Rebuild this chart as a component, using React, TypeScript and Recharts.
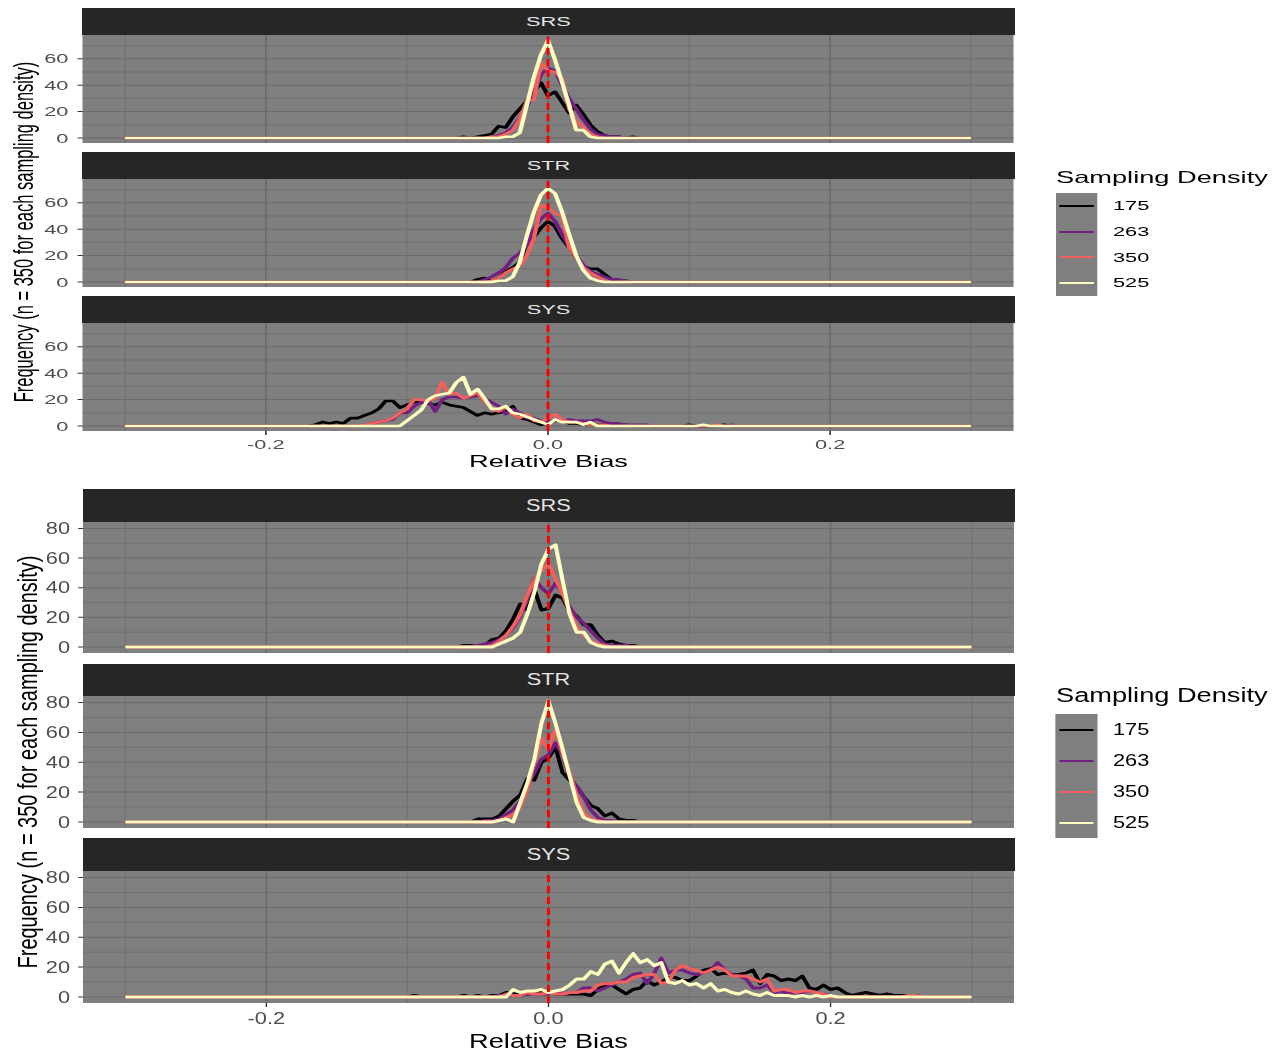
import React from "react";
import { LineChart, Line, XAxis, YAxis, CartesianGrid, ReferenceLine } from "recharts";

const densities = ["175", "263", "350", "525"];
const densityColors = ["#000004", "#721F81", "#F1605D", "#FCFDBF"];
const designs = ["SRS", "STR", "SYS"];

const binWidth = 0.005;
const biasLimits = [-0.3, 0.3];
const biasTicks = [-0.2, 0, 0.2];
const biasMinor = [-0.3, -0.1, 0.1, 0.3];
const upperFreqTicks = [0, 20, 40, 60];
const lowerFreqTicks = [0, 20, 40, 60, 80];
const freqMinor = [10, 30, 50, 70];

// frequency polygons: first bin centre for each density, then counts per 0.005 bin
const upperSrsStart = [-0.065, -0.045, -0.045, -0.035];
const upperSrsCounts = [
  [0, 1, 0, 1, 2, 3, 9, 8, 16, 22, 28, 35, 42, 32, 35, 27, 19, 25, 18, 10, 5, 2, 1, 1, 0, 1, 0],
  [0, 1, 2, 4, 8, 15, 24, 34, 48, 53, 51, 40, 30, 22, 14, 7, 3, 2, 1, 1, 0],
  [0, 1, 1, 3, 6, 14, 28, 29, 57, 51, 50, 45, 22, 13, 8, 3, 1, 0],
  [0, 1, 1, 4, 25, 46, 63, 74, 59, 42, 25, 6, 6, 1, 0],
];

const upperStrStart = [-0.055, -0.05, -0.045, -0.04];
const upperStrCounts = [
  [0, 2, 3, 1, 3, 8, 11, 15, 30, 34, 41, 46, 42, 33, 26, 19, 12, 10, 10, 6, 2, 1, 1, 0],
  [0, 2, 4, 7, 11, 18, 22, 28, 40, 48, 52, 46, 36, 27, 20, 13, 8, 6, 4, 2, 2, 1, 0],
  [0, 1, 3, 7, 10, 12, 20, 33, 58, 56, 52, 50, 26, 19, 11, 7, 4, 1, 0],
  [0, 1, 1, 4, 15, 35, 53, 66, 71, 67, 53, 36, 20, 9, 3, 1, 0],
];

const upperSysStart = [-0.17, -0.135, -0.135, -0.105];
const upperSysCounts = [
  [0, 1, 3, 2, 3, 2, 6, 6, 8, 10, 13, 19, 19, 14, 16, 18, 18, 17, 16, 18, 16, 15, 14, 11, 8, 10, 9, 10, 11, 15,
   6, 5, 3, 1, 2, 4, 4, 2, 2, 1, 2, 1, 1, 1, 0, 1, 0, 0, 0, 0, 0, 0, 0, 0, 1, 0, 0, 0, 0, 1, 0],
  [0, 1, 2, 3, 4, 5, 10, 10, 15, 18, 20, 11, 20, 22, 22, 21, 22, 23, 21, 18, 15, 9, 13, 10, 6, 6, 4, 3, 5, 4,
   5, 4, 4, 4, 5, 3, 2, 2, 1, 1, 1, 1, 0, 0, 0, 0, 0, 0, 0, 0, 0, 0, 0, 1, 0],
  [0, 1, 2, 3, 4, 6, 10, 13, 20, 20, 19, 21, 33, 24, 25, 21, 23, 25, 19, 13, 11, 15, 9, 6, 9, 4, 3, 6, 9, 5,
   3, 3, 2, 1, 1, 1, 0, 0, 0, 0, 0, 0, 0, 0, 0, 0, 0, 0, 0, 0, 0, 1, 0],
  [0, 4, 8, 12, 20, 23, 24, 25, 33, 37, 24, 28, 21, 13, 13, 15, 10, 9, 7, 5, 3, 1, 5, 3, 3, 3, 1, 3, 0,
   0, 0, 0, 0, 0, 0, 0, 0, 0, 0, 0, 0, 0, 0, 1, 0],
];

const lowerSrsStart = [-0.065, -0.055, -0.045, -0.04];
const lowerSrsCounts = [
  [0, 1, 1, 0, 1, 5, 6, 11, 19, 29, 25, 39, 25, 26, 35, 33, 24, 21, 15, 15, 8, 3, 4, 2, 1, 1, 0],
  [0, 1, 2, 3, 5, 8, 13, 21, 32, 46, 40, 36, 43, 37, 27, 20, 16, 11, 6, 2, 1, 1, 1, 0],
  [0, 1, 4, 8, 14, 22, 35, 45, 52, 56, 46, 36, 24, 14, 8, 4, 2, 1, 0],
  [0, 2, 4, 6, 10, 22, 37, 56, 66, 69, 45, 22, 10, 10, 3, 1, 0],
];

const lowerStrStart = [-0.055, -0.05, -0.04, -0.04];
const lowerStrCounts = [
  [0, 2, 2, 2, 4, 9, 14, 18, 29, 28, 40, 43, 50, 33, 28, 24, 17, 11, 9, 4, 6, 2, 1, 1, 0],
  [0, 1, 1, 2, 5, 8, 14, 24, 33, 42, 45, 53, 45, 30, 24, 17, 8, 3, 1, 1, 0],
  [0, 1, 3, 5, 10, 22, 40, 56, 49, 62, 46, 33, 18, 6, 2, 1, 0],
  [0, 1, 2, 0, 13, 26, 42, 66, 81, 66, 49, 31, 13, 3, 1, 0],
];

const lowerSysStart = [-0.1, -0.04, -0.035, -0.035];
const lowerSysCounts = [
  [0, 1, 0, 0, 0, 0, 0, 0, 1, 0, 1, 0, 1, 1, 3, 2, 2, 2, 3, 3, 3, 2, 2, 2, 2, 2, 1, 5, 8, 8,
   5, 2, 5, 6, 11, 8, 10, 13, 13, 11, 11, 14, 18, 19, 15, 16, 15, 15, 16, 18, 9, 15, 14, 11, 12, 11, 14, 6, 5, 8,
   5, 6, 3, 1, 2, 3, 2, 1, 2, 1, 1, 1, 1, 0],
  [0, 1, 1, 1, 1, 2, 2, 2, 2, 3, 2, 3, 3, 6, 6, 4, 6, 8, 10, 12, 15, 16, 9, 16, 26, 16, 18, 18, 16, 15,
   16, 18, 23, 18, 15, 14, 12, 6, 6, 8, 3, 4, 2, 3, 3, 4, 3, 2, 1, 0],
  [0, 2, 1, 1, 3, 2, 2, 3, 2, 2, 3, 3, 4, 4, 8, 9, 9, 10, 10, 13, 14, 15, 15, 9, 10, 18, 21, 19, 18, 16,
   18, 20, 18, 14, 14, 14, 12, 10, 12, 4, 5, 5, 3, 4, 4, 3, 2, 0, 0, 0, 0, 0, 0, 0, 0, 0, 0, 0, 1, 1, 0],
  [0, 0, 5, 3, 4, 4, 5, 3, 4, 5, 8, 12, 12, 17, 15, 22, 24, 16, 23, 29, 23, 25, 21, 23, 10, 9, 11, 8, 9, 6,
   9, 4, 5, 3, 2, 4, 2, 1, 3, 1, 1, 1, 0, 1, 0, 1, 0, 1, 0],
];

type Pt = { x: number; y: number };

function polygon(start: number, counts: number[]): Pt[] {
  const pts = counts.map((c, i) => ({ x: +(start + i * binWidth).toFixed(3), y: c }));
  return [{ x: biasLimits[0], y: 0 }, ...pts, { x: biasLimits[1], y: 0 }];
}

const panelSeries = (starts: number[], counts: number[][]) =>
  counts.map((c, k) => polygon(starts[k], c));

const upperPanels = [
  panelSeries(upperSrsStart, upperSrsCounts),
  panelSeries(upperStrStart, upperStrCounts),
  panelSeries(upperSysStart, upperSysCounts),
];
const lowerPanels = [
  panelSeries(lowerSrsStart, lowerSrsCounts),
  panelSeries(lowerStrStart, lowerStrCounts),
  panelSeries(lowerSysStart, lowerSysCounts),
];

const FONT = '"Liberation Sans", Arial, Helvetica, sans-serif';
const PANEL_X0 = 83;
const PANEL_X1 = 1014;
const LEGEND_X0 = 1056;
const LEGEND_X1 = 1098;
const LEGEND_LABEL_X = 1113;
const Y_AXIS_W = 40;
// room under inner panels so the "0" tick label is not clipped
const LABEL_PAD = 8;

type Layout = {
  sx: number;
  strips: number[][];
  panels: number[][];
  yDomain: number[];
  yTicks: number[];
  tickFont: number;
  titleFont: number;
  tickLen: number;
  yTickGap: number;
  xTickGap: number;
  xAxisH: number;
  xTitleY: number;
  yTitleX: number;
  yTitleY: number;
  legendTitleY: number;
  legendTop: number;
  keyH: number;
  lineW: number;
  zeroW: number;
};

const upperLayout: Layout = {
  sx: 1.65,
  strips: [[8, 34], [152, 178], [296, 322]],
  panels: [[34, 143], [178, 287], [322, 431]],
  yDomain: [-3.75, 78.75],
  yTicks: upperFreqTicks,
  tickFont: 13.2,
  titleFont: 16.5,
  tickLen: 3,
  yTickGap: 5.5,
  xTickGap: 5,
  xAxisH: 26,
  xTitleY: 462,
  yTitleX: 25,
  yTitleY: 232,
  legendTitleY: 178,
  legendTop: 193,
  keyH: 25.75,
  lineW: 2.6,
  zeroW: 1.8,
};

const lowerLayout: Layout = {
  sx: 1.36,
  strips: [[489, 521], [664, 695], [838, 870]],
  panels: [[521, 653], [695, 828], [870, 1003]],
  yDomain: [-4.05, 85.05],
  yTicks: lowerFreqTicks,
  tickFont: 16,
  titleFont: 20,
  tickLen: 3.5,
  yTickGap: 6,
  xTickGap: 6,
  xAxisH: 30,
  xTitleY: 1041,
  yTitleX: 27,
  yTitleY: 762,
  legendTitleY: 695,
  legendTop: 714,
  keyH: 31,
  lineW: 3,
  zeroW: 2.2,
};

function Figure({ L, panels }: { L: Layout; panels: Pt[][][] }) {
  const px = (x: number) => x / L.sx;
  const panelLeft = px(PANEL_X0);
  const panelW = px(PANEL_X1) - px(PANEL_X0);
  const tickStyle = { fill: "#4D4D4D", fontSize: L.tickFont, fontFamily: FONT };

  return (
    <div
      style={{
        position: "absolute",
        left: 0,
        top: 0,
        width: px(1284),
        height: 1060,
        transform: `scaleX(${L.sx})`,
        transformOrigin: "0 0",
        fontFamily: FONT,
      }}
    >
      {designs.map((design, i) => {
        const [st, sb] = L.strips[i];
        const [pt, pb] = L.panels[i];
        const last = i === designs.length - 1;
        const pad = last ? 0 : LABEL_PAD;
        return (
          <React.Fragment key={design}>
            <div style={{ position: "absolute", left: panelLeft - Y_AXIS_W, top: pt }}>
              <LineChart
                width={Y_AXIS_W + panelW}
                height={pb - pt + (last ? L.xAxisH : pad)}
                margin={{ top: 0, right: 0, bottom: pad, left: 0 }}
              >
                <CartesianGrid
                  fill="#7F7F7F"
                  stroke="#6B6B6B"
                  strokeWidth={0.6}
                  verticalValues={biasMinor}
                  horizontalValues={freqMinor}
                />
                <CartesianGrid
                  stroke="#6B6B6B"
                  strokeWidth={1}
                  verticalValues={biasTicks}
                  horizontalValues={L.yTicks}
                />
                <XAxis
                  type="number"
                  dataKey="x"
                  domain={[-0.33, 0.33]}
                  allowDataOverflow
                  ticks={biasTicks}
                  interval={0}
                  hide={!last}
                  height={L.xAxisH}
                  tickFormatter={(v: number) => v.toFixed(1)}
                  tick={tickStyle}
                  tickLine={{ stroke: "#333333" }}
                  tickSize={4}
                  tickMargin={L.xTickGap}
                  axisLine={false}
                />
                <YAxis
                  type="number"
                  domain={L.yDomain}
                  allowDataOverflow
                  ticks={L.yTicks}
                  interval={0}
                  width={Y_AXIS_W}
                  tick={tickStyle}
                  tickLine={{ stroke: "#333333" }}
                  tickSize={L.tickLen}
                  tickMargin={L.yTickGap}
                  axisLine={false}
                />
                {panels[i].map((pts, k) => (
                  <Line
                    key={densities[k]}
                    data={pts}
                    dataKey="y"
                    type="linear"
                    dot={false}
                    activeDot={false}
                    stroke={densityColors[k]}
                    strokeWidth={L.lineW}
                    strokeLinejoin="round"
                    isAnimationActive={false}
                  />
                ))}
                <ReferenceLine x={0} stroke="#FF0000" strokeWidth={L.zeroW} strokeDasharray="7 4" />
              </LineChart>
            </div>
            {/* strip header overlaps the panel top by 1px to avoid a seam */}
            <div
              style={{
                position: "absolute",
                left: panelLeft,
                top: st,
                width: panelW,
                height: sb - st + 1,
                background: "#262626",
                color: "#E5E5E5",
                fontSize: L.tickFont,
                display: "flex",
                alignItems: "center",
                justifyContent: "center",
              }}
            >
              {design}
            </div>
          </React.Fragment>
        );
      })}

      <div
        style={{
          position: "absolute",
          left: panelLeft,
          width: panelW,
          top: L.xTitleY - L.titleFont * 0.6,
          lineHeight: 1.2,
          fontSize: L.titleFont,
          textAlign: "center",
          color: "#000",
        }}
      >
        Relative Bias
      </div>

      <div
        style={{
          position: "absolute",
          left: px(L.yTitleX),
          top: L.yTitleY,
          transform: "translate(-50%, -50%) rotate(-90deg)",
          whiteSpace: "nowrap",
          fontSize: L.titleFont,
          lineHeight: 1.2,
          color: "#000",
        }}
      >
        Frequency (n = 350 for each sampling density)
      </div>

      <div
        style={{
          position: "absolute",
          left: px(LEGEND_X0),
          top: L.legendTitleY - L.titleFont * 0.6,
          lineHeight: 1.2,
          fontSize: L.titleFont,
          whiteSpace: "nowrap",
          color: "#000",
        }}
      >
        Sampling Density
      </div>
      <div
        style={{
          position: "absolute",
          left: px(LEGEND_X0),
          top: L.legendTop,
          width: px(LEGEND_X1) - px(LEGEND_X0),
          background: "#7F7F7F",
        }}
      >
        {densities.map((d, k) => (
          <div key={d} style={{ position: "relative", height: L.keyH }}>
            <div
              style={{
                position: "absolute",
                left: px(4),
                right: px(4),
                top: L.keyH / 2 - 1,
                height: 2,
                background: densityColors[k],
              }}
            />
          </div>
        ))}
      </div>
      {densities.map((d, k) => (
        <div
          key={d}
          style={{
            position: "absolute",
            left: px(LEGEND_LABEL_X),
            top: L.legendTop + k * L.keyH,
            height: L.keyH,
            lineHeight: `${L.keyH}px`,
            fontSize: L.tickFont,
            color: "#000",
          }}
        >
          {d}
        </div>
      ))}
    </div>
  );
}

export default function App() {
  return (
    <div
      style={{
        position: "absolute",
        left: 0,
        top: 0,
        width: 1284,
        height: 1060,
        background: "#FFFFFF",
        overflow: "hidden",
      }}
    >
      <Figure L={upperLayout} panels={upperPanels} />
      <Figure L={lowerLayout} panels={lowerPanels} />
    </div>
  );
}
